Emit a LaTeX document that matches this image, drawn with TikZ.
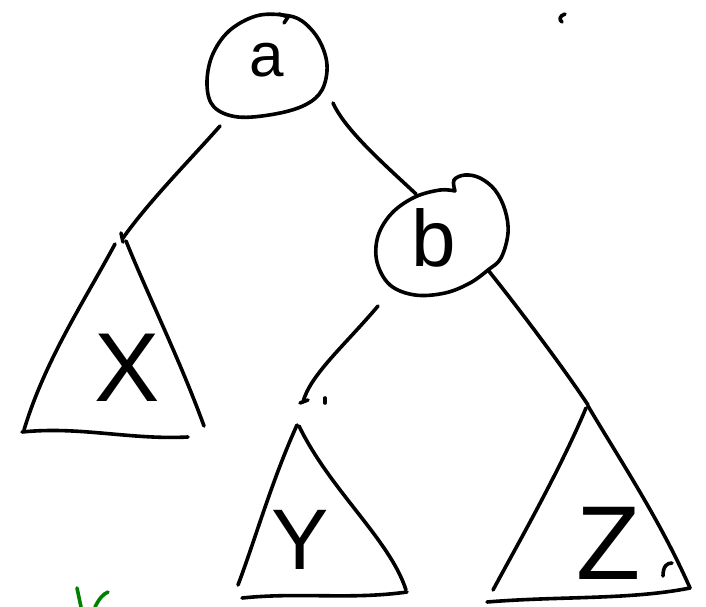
\documentclass[tikz,border=0pt]{standalone}
\usepackage{fontspec}
\setmainfont{Liberation Sans}
\begin{document}
\begin{tikzpicture}[x=1pt,y=-1pt,
  pen/.style={line width=3.6pt,line cap=round,line join=round,draw=black},
  lbl/.style={inner sep=0pt,outer sep=0pt},
  greenpen/.style={pen,draw={rgb,255:red,0;green,128;blue,0}}]
\useasboundingbox (0,0) rectangle (706,607);
% ---- node a ----
\draw[pen] plot[smooth cycle,tension=0.6] coordinates {(283,15) (302,21) (319,40) (327,65) (322,90) (305,105) (275,114) (238,117) (214,107) (207,85) (212,56) (229,31) (256,16)};
\draw[pen] (279,14) -- (288,17) -- (284,23);
\node[lbl,font=\fontsize{62}{62}\selectfont] (a) at (267,60) {a};
% ---- node b ----
\draw[pen] plot[smooth,tension=0.6] coordinates {(455,191) (440,190) (415,197) (392,213) (378,236) (377,262) (390,285) (415,295) (445,293) (470,283) (488,270) (501,258) (508,233) (505,210) (495,190) (480,178) (465,175) (454,180) (455,191)};
\node[lbl,font=\fontsize{80}{80}\selectfont] (b) at (434,238) {b};
% ---- connector end points ----
\coordinate (aL) at (220,126);
\coordinate (aR) at (333,103);
\coordinate (bIn) at (416,194);
\coordinate (bL) at (378,306);
\coordinate (bR) at (488,270);
\coordinate (xTop) at (123,238);
\coordinate (yTop) at (303,402);
\coordinate (zTop) at (588,405);
% connectors
\draw[pen] (aL) .. controls (190,160) and (150,200) .. (xTop);
\draw[pen] (121,233) -- (123,242);
\draw[pen] (aR) .. controls (345,130) and (385,165) .. (bIn);
\draw[pen] (bL) .. controls (345,345) and (310,375) .. (yTop);
\draw[pen] (300,403) -- (308,400);
\draw[pen] (325,398) -- (325,403);
\draw[pen] (bR) .. controls (520,310) and (565,370) .. (zTop);
% ---- triangle X ----
\draw[pen] (115,244) .. controls (85,300) and (45,360) .. (24,430);
\draw[pen] (126,241) .. controls (150,300) and (180,360) .. (204,426);
\draw[pen] (22,432) .. controls (80,426) and (130,440) .. (188,437);
\node[lbl,font=\fontsize{98}{98}\selectfont] (X) at (127,368) {X};
% ---- triangle Y ----
\draw[pen] (297,425) .. controls (272,480) and (255,540) .. (238,585);
\draw[pen] (299,426) .. controls (330,490) and (390,540) .. (406,590);
\draw[pen] (242,598) .. controls (300,592) and (350,600) .. (407,592);
\node[lbl,font=\fontsize{86}{86}\selectfont] (Y) at (300,540) {Y};
% ---- triangle Z ----
\draw[pen] (586,408) .. controls (560,470) and (520,540) .. (493,590);
\draw[pen] (588,406) .. controls (620,460) and (660,520) .. (690,588);
\draw[pen] (487,602) .. controls (560,596) and (630,600) .. (690,588);
\draw[pen] (663,576) .. controls (663,566) and (667,563) .. (672,563);
\node[lbl,font=\fontsize{105}{105}\selectfont] (Z) at (609,543) {Z};
% ---- stray marks ----
\draw[pen] (565,14) .. controls (559,16) and (559,20) .. (562,22);
\draw[greenpen] (77,588) -- (81,607);
\draw[greenpen] (95,607) .. controls (99,599) and (103,594) .. (108,592);
\end{tikzpicture}
\end{document}
